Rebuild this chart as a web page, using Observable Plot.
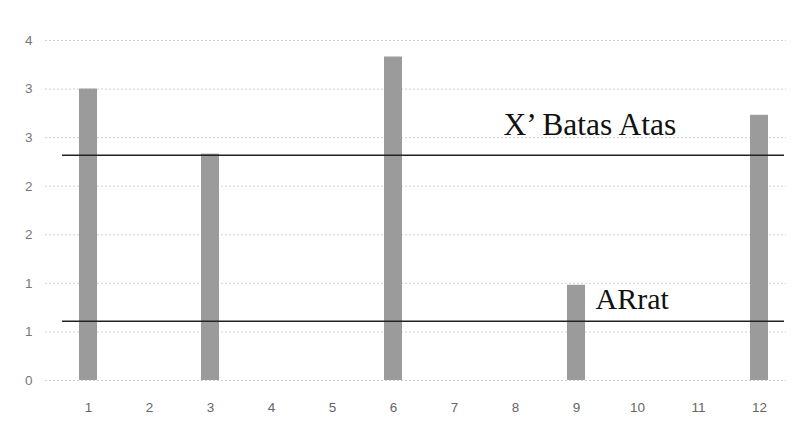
<!DOCTYPE html>
<html>
<head>
<meta charset="utf-8">
<script src="https://cdn.jsdelivr.net/npm/d3@7"></script>
<script src="https://cdn.jsdelivr.net/npm/@observablehq/plot@0.6"></script>
<style>
  html, body { margin: 0; padding: 0; background: #fff; }
  #chart { width: 808px; height: 425px; }
</style>
</head>
<body>
<div id="chart"></div>
<script>
const categories = ["1","2","3","4","5","6","7","8","9","10","11","12"];
const values = [3.0, 0, 2.33, 0, 0, 3.33, 0, 0, 0.98, 0, 0, 2.73];
const yTicks = [0, 0.5, 1, 1.5, 2, 2.5, 3, 3.5];
const upperLimit = 2.32;   // X' Batas Atas
const meanLine = 0.61;     // ARrat
const upperLabel = "X\u2019 Batas Atas";
const meanLabel = "ARrat";

const data = categories.map((c, i) => ({cat: c, value: values[i]})).filter(d => d.value > 0);

const chart = Plot.plot({
  width: 808,
  height: 425,
  marginTop: 40,
  marginBottom: 45,
  marginLeft: 54,
  marginRight: 15,
  style: {background: "#fff", fontFamily: "'Liberation Sans', Arial, sans-serif"},
  x: {domain: categories, paddingInner: 0.7, paddingOuter: 0.35, label: null},
  y: {domain: [0, 3.5], label: null},
  marks: [
    Plot.gridY(yTicks, {stroke: "#c4c4c4", strokeOpacity: 0.8, strokeDasharray: "2,2", insetLeft: -9, insetRight: 7}),
    Plot.axisY({ticks: yTicks, tickSize: 0, tickPadding: 22, tickFormat: d => String(Math.round(d)),
                fontSize: 13.5, fill: "#777", label: null}),
    Plot.axisX({tickSize: 0, tickPadding: 22, fontSize: 13.5, fill: "#666", label: null}),
    Plot.barY(data, {x: "cat", y: "value", fill: "#9b9b9b"}),
    Plot.ruleY([upperLimit, meanLine], {stroke: "#222", strokeWidth: 1.5, insetLeft: 8, insetRight: 9}),
    Plot.text([upperLabel], {x: () => "8", y: () => upperLimit, text: d => d, dx: -12, dy: -20,
      textAnchor: "start", lineAnchor: "bottom", fontSize: 31.5, fill: "#111",
      fontFamily: "'Liberation Serif', 'Times New Roman', serif"}),
    Plot.text([meanLabel], {x: () => "9", y: () => meanLine, text: d => d, dx: 19, dy: -12,
      textAnchor: "start", lineAnchor: "bottom", fontSize: 30, fill: "#111",
      fontFamily: "'Liberation Serif', 'Times New Roman', serif"})
  ]
});
document.getElementById("chart").appendChild(chart);
</script>
</body>
</html>
